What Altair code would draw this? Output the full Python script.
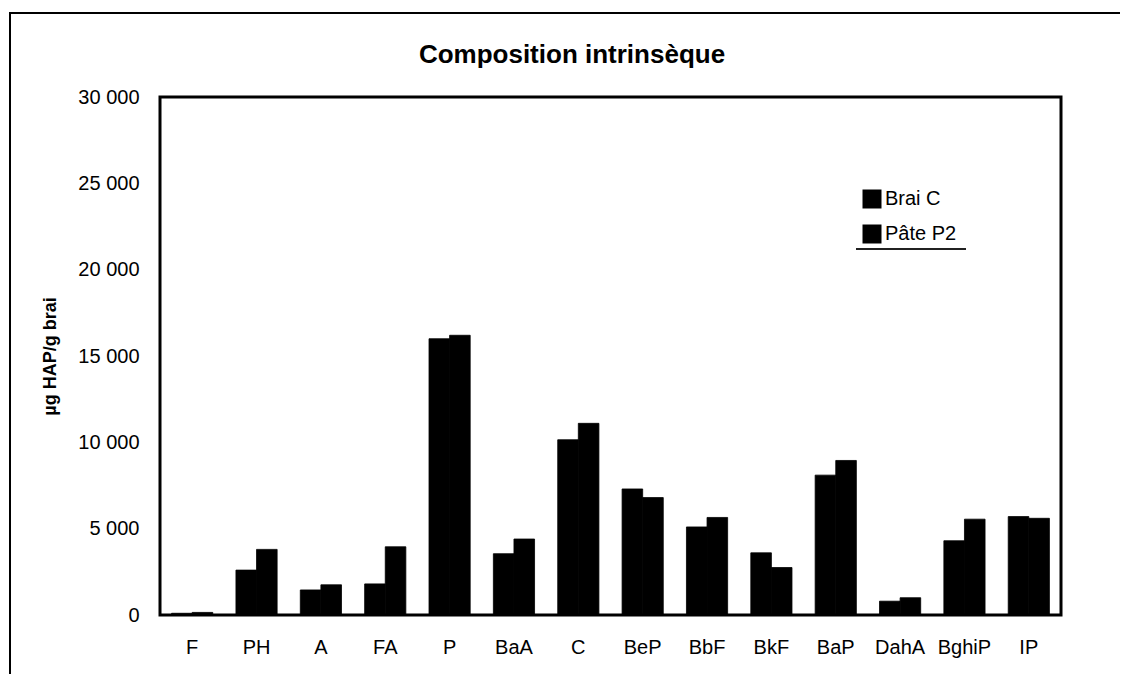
import altair as alt
import pandas as pd

categories = ["F", "PH", "A", "FA", "P", "BaA", "C", "BeP", "BbF", "BkF", "BaP", "DahA", "BghiP", "IP"]
series_names = ["Brai C", "Pâte P2"]
brai_c = [100, 2600, 1450, 1800, 16000, 3550, 10150, 7300, 5100, 3600, 8100, 800, 4300, 5700]
pate_p2 = [150, 3800, 1750, 3950, 16200, 4400, 11100, 6800, 5650, 2750, 8950, 1000, 5550, 5600]
y_ticks = [0, 5000, 10000, 15000, 20000, 25000, 30000]
chart_title = "Composition intrinsèque"

rows = []
for i, c in enumerate(categories):
    rows.append({"cat": c, "serie": series_names[0], "val": brai_c[i]})
    rows.append({"cat": c, "serie": series_names[1], "val": pate_p2[i]})
df = pd.DataFrame(rows)
title_df = pd.DataFrame({"t": [chart_title]})

FONT = "Liberation Sans"
W, H = 901, 518

bars = alt.Chart(df).mark_bar(stroke="black", strokeWidth=0.8).encode(
    x=alt.X("cat:N", sort=categories,
            scale=alt.Scale(paddingInner=0.36, paddingOuter=0.18),
            axis=alt.Axis(title=None, labelAngle=0, labelFontSize=20, labelFont=FONT,
                          labelColor="black", labelPadding=22, ticks=False, domain=False)),
    xOffset=alt.XOffset("serie:N", sort=series_names, scale=alt.Scale(paddingInner=0)),
    y=alt.Y("val:Q", scale=alt.Scale(domain=[0, 30000], nice=False),
            axis=alt.Axis(values=y_ticks, title="µg HAP/g brai", titleFont=FONT,
                          titleFontSize=18, titleFontWeight="bold", titleColor="black",
                          titleAngle=-90, titleX=-110, titleY=H / 2,
                          titleAlign="center", titleBaseline="middle",
                          labelFontSize=20, labelFont=FONT, labelColor="black",
                          labelPadding=21, ticks=False, domain=False, grid=False,
                          labelExpr="replace(format(datum.value, ','), ',', ' ')")),
    color=alt.Color("serie:N", sort=series_names,
                    scale=alt.Scale(domain=series_names, range=["#000000", "#000000"]),
                    legend=alt.Legend(title=None, orient="none", legendX=702, legendY=92,
                                      symbolType="square", symbolSize=361,
                                      symbolStrokeWidth=0, labelFontSize=20,
                                      labelFont=FONT, labelColor="black",
                                      labelOffset=3, rowPadding=15, padding=0)),
)

title_text = alt.Chart(title_df).mark_text(
    font=FONT, fontSize=26, fontWeight="bold", color="black",
    align="center", baseline="alphabetic").encode(
    text="t:N", x=alt.value(412), y=alt.value(-34))

frame_top = alt.Chart(df).mark_rule(color="black", strokeWidth=2).encode(
    x=alt.value(-151), x2=alt.value(960), y=alt.value(-84))
frame_left = alt.Chart(df).mark_rule(color="black", strokeWidth=2).encode(
    x=alt.value(-150), y=alt.value(-85), y2=alt.value(577))
legend_line = alt.Chart(df).mark_rule(color="#222222", strokeWidth=1.5).encode(
    x=alt.value(696), x2=alt.value(806), y=alt.value(152))

chart = alt.layer(bars, title_text, frame_top, frame_left, legend_line).properties(
    width=W, height=H,
    padding={"left": 0, "top": 3, "right": 0, "bottom": 0},
).configure(background="white").configure_view(stroke="black", strokeWidth=3)

chart.save("out.html", embed_options={"renderer": "svg", "actions": False})
